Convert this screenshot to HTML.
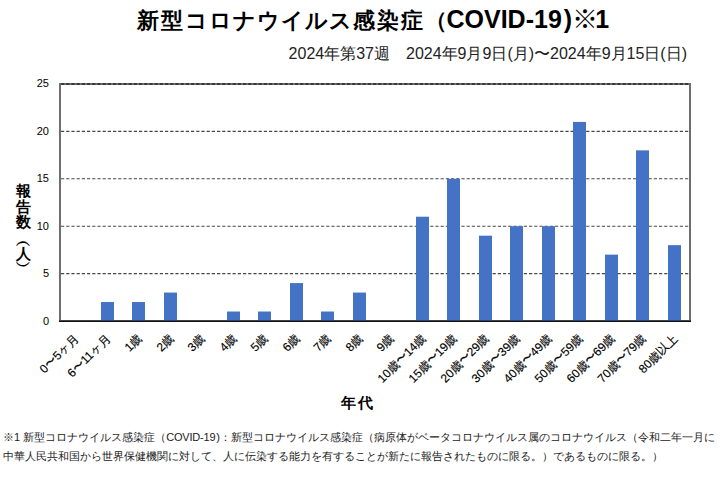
<!DOCTYPE html>
<html lang="ja">
<head>
<meta charset="utf-8">
<style>
html,body{margin:0;padding:0;background:#fff;}
body{width:720px;height:485px;position:relative;overflow:hidden;font-family:"Liberation Sans",sans-serif;color:#000;}
.t{position:absolute;white-space:nowrap;line-height:1;}
#title{left:137px;top:6px;font-size:22px;font-weight:bold;}
#title .k{letter-spacing:2px}
#title .kn{letter-spacing:1px}
#title .lat{font-size:25px;letter-spacing:0}
#title .km{font-size:26px;font-weight:normal}
#sub{right:33px;top:46px;font-size:16px;color:#222;}
.yl{position:absolute;right:671px;font-size:11px;line-height:11px;white-space:nowrap;}
.yt{position:absolute;left:15px;width:16px;text-align:center;font-size:15px;line-height:15px;font-weight:bold;}
#xtitle{left:341px;top:396px;font-size:14.5px;font-weight:bold;letter-spacing:1.5px;}
.xl{position:absolute;font-size:12px;line-height:12px;-webkit-text-stroke:0.15px #000;white-space:nowrap;transform-origin:100% 0;transform:rotate(-45deg);}
#foot{left:3px;top:428px;font-size:11px;line-height:19px;color:#222;}
svg{position:absolute;left:0;top:0;}
</style>
</head>
<body>
<svg width="720" height="485" viewBox="0 0 720 485">
<rect x="60" y="84" width="630" height="237" fill="none" stroke="#6e6e6e" stroke-width="2"/>
<g stroke="#474747" stroke-width="1.1" stroke-dasharray="3.2 2" fill="none">
<line x1="61" y1="131.4" x2="689" y2="131.4"/>
<line x1="61" y1="178.8" x2="689" y2="178.8"/>
<line x1="61" y1="226.2" x2="689" y2="226.2"/>
<line x1="61" y1="273.6" x2="689" y2="273.6"/>
</g>
<line x1="61" y1="84" x2="689" y2="84" stroke="#3a3a3a" stroke-width="2" stroke-dasharray="3.2 2"/>
<g fill="#4472C4">
<rect x="101" y="302.04" width="13" height="18.96"/>
<rect x="132" y="302.04" width="13" height="18.96"/>
<rect x="164" y="292.56" width="13" height="28.44"/>
<rect x="227" y="311.52" width="13" height="9.48"/>
<rect x="258" y="311.52" width="13" height="9.48"/>
<rect x="290" y="283.08" width="13" height="37.92"/>
<rect x="321" y="311.52" width="13" height="9.48"/>
<rect x="353" y="292.56" width="13" height="28.44"/>
<rect x="416" y="216.72" width="13" height="104.28"/>
<rect x="447" y="178.80" width="13" height="142.20"/>
<rect x="479" y="235.68" width="13" height="85.32"/>
<rect x="510" y="226.20" width="13" height="94.80"/>
<rect x="542" y="226.20" width="13" height="94.80"/>
<rect x="573" y="121.92" width="13" height="199.08"/>
<rect x="605" y="254.64" width="13" height="66.36"/>
<rect x="636" y="150.36" width="13" height="170.64"/>
<rect x="668" y="245.16" width="13" height="75.84"/>
</g>
<line x1="59" y1="320.5" x2="691" y2="320.5" stroke="#000" stroke-opacity="0.4" stroke-width="1"/>
<line x1="59" y1="321.5" x2="691" y2="321.5" stroke="#111" stroke-width="1"/>
</svg>

<div id="title" class="t"><span class="k">新型</span><span class="kn">コロナウイルス</span><span class="k">感染症</span><span style="letter-spacing:-0.5px">（</span><span class="lat">COVID-19</span><span class="lat" style="margin-left:2px">)</span><span class="km" style="letter-spacing:-3px">※</span><span class="lat">1</span></div>
<div id="sub" class="t">2024年第37週　2024年9月9日(月)〜2024年9月15日(日)</div>

<div class="yl" style="top:78px">25</div>
<div class="yl" style="top:126px">20</div>
<div class="yl" style="top:173px">15</div>
<div class="yl" style="top:221px">10</div>
<div class="yl" style="top:268px">5</div>
<div class="yl" style="top:316px">0</div>

<div class="yt" style="top:183px">報</div>
<div class="yt" style="top:199px">告</div>
<div class="yt" style="top:214px">数</div>
<div class="yt" style="top:233px">︵</div>
<div class="yt" style="top:246px">人</div>
<div class="yt" style="top:258px">︶</div>
<div id="xtitle" class="t">年代</div>

<div id="xlabels">
<div class="xl" style="right:647.25px;top:331.5px">0〜5ヶ月</div>
<div class="xl" style="right:615.75px;top:331.5px">6〜11ヶ月</div>
<div class="xl" style="right:584.25px;top:331.5px">1歳</div>
<div class="xl" style="right:552.75px;top:331.5px">2歳</div>
<div class="xl" style="right:521.25px;top:331.5px">3歳</div>
<div class="xl" style="right:489.75px;top:331.5px">4歳</div>
<div class="xl" style="right:458.25px;top:331.5px">5歳</div>
<div class="xl" style="right:426.75px;top:331.5px">6歳</div>
<div class="xl" style="right:395.25px;top:331.5px">7歳</div>
<div class="xl" style="right:363.75px;top:331.5px">8歳</div>
<div class="xl" style="right:332.25px;top:331.5px">9歳</div>
<div class="xl" style="right:300.75px;top:331.5px">10歳〜14歳</div>
<div class="xl" style="right:269.25px;top:331.5px">15歳〜19歳</div>
<div class="xl" style="right:237.75px;top:331.5px">20歳〜29歳</div>
<div class="xl" style="right:206.25px;top:331.5px">30歳〜39歳</div>
<div class="xl" style="right:174.75px;top:331.5px">40歳〜49歳</div>
<div class="xl" style="right:143.25px;top:331.5px">50歳〜59歳</div>
<div class="xl" style="right:111.75px;top:331.5px">60歳〜69歳</div>
<div class="xl" style="right:80.25px;top:331.5px">70歳〜79歳</div>
<div class="xl" style="right:48.75px;top:331.5px">80歳以上</div>
</div>

<div id="foot" class="t">※1 新型コロナウイルス感染症（<span style="letter-spacing:-0.2px">COVID-19</span><span style="margin-left:1px">)</span>：新型コロナウイルス感染症（病原体がベータコロナウイルス属のコロナウイルス（令和二年一月に<br>中華人民共和国から世界保健機関に対して、人に伝染する能力を有することが新たに報告されたものに限る。）であるものに限る。）</div>
</body>
</html>
